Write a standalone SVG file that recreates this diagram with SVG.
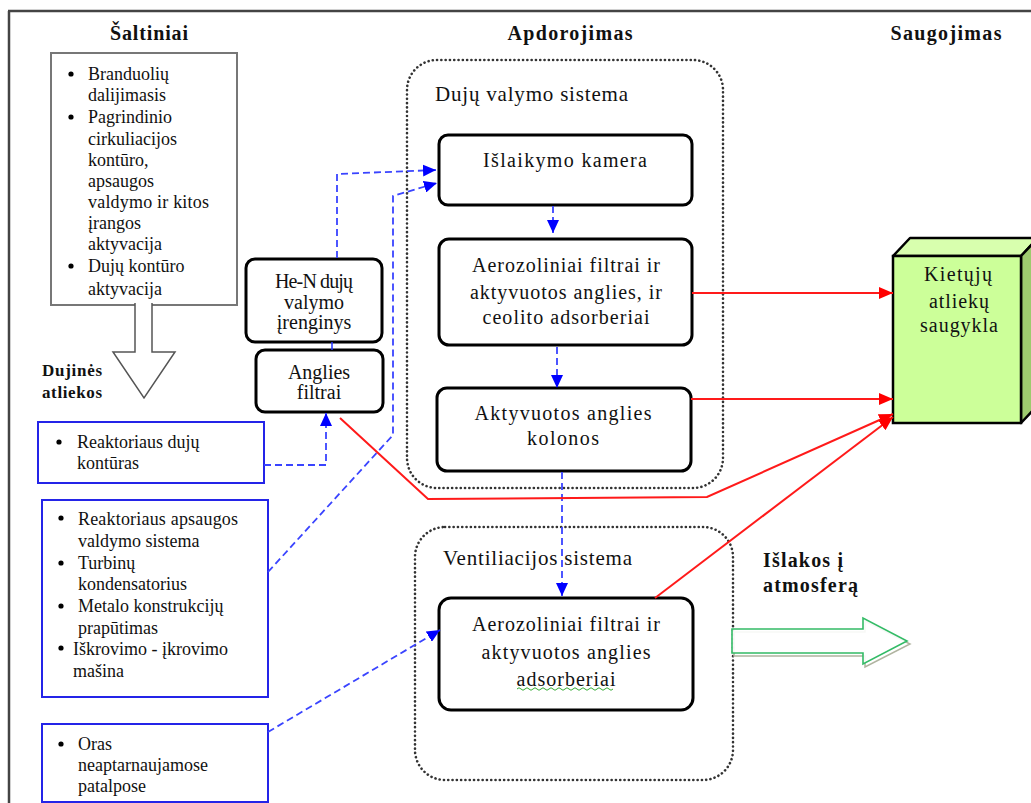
<svg xmlns="http://www.w3.org/2000/svg" width="1031" height="803" viewBox="0 0 1031 803">
<style>
text{font-family:"Liberation Serif","Times New Roman",serif;fill:#111;}
.h{font-size:20px;font-weight:bold;text-anchor:middle;}
.hb{font-size:20px;font-weight:bold;}
.s{font-size:18px;}
.p{font-size:20px;text-anchor:middle;}
.c{font-size:21px;}
.proc{fill:#fff;stroke:#000;stroke-width:3;}
.src{fill:#fff;stroke:#2424e8;stroke-width:2;}
.dot{fill:none;stroke:#333;stroke-width:2.6;stroke-dasharray:0.1 4.2;stroke-linecap:round;}
.bd{fill:none;stroke:#3a44ff;stroke-width:1.8;stroke-dasharray:7 4;}
.red{fill:none;stroke:#ff1a1a;stroke-width:2;}
.bul{fill:#000;}
</style>
<defs>
<marker id="ab" markerUnits="userSpaceOnUse" markerWidth="13" markerHeight="12" refX="13" refY="6" orient="auto"><path d="M0,0 L13,6 L0,12 z" fill="#0000ff"/></marker>
<marker id="ar" markerUnits="userSpaceOnUse" markerWidth="14" markerHeight="12" refX="14" refY="6" orient="auto"><path d="M0,0 L14,6 L0,12 z" fill="#ff0000"/></marker>
</defs>
<rect width="1031" height="803" fill="#fff"/>
<g id="frame">
<path d="M8,11 H1031 M9,11 V803" fill="none" stroke="#444" stroke-width="2.5"/>
</g>
<g id="headers">
<text class="h" x="149" y="40" textLength="78">Šaltiniai</text>
<text class="h" x="570" y="40" textLength="125">Apdorojimas</text>
<text class="h" x="946" y="40" textLength="111">Saugojimas</text>
</g>
<g id="containers">
<rect class="dot" x="407" y="60" width="316" height="428" rx="30"/>
<text class="c" x="435" y="101" textLength="193">Dujų valymo sistema</text>
<rect class="dot" x="415" y="527" width="318" height="253" rx="30"/>
<text class="c" x="443" y="565" textLength="189">Ventiliacijos sistema</text>
</g>
<g id="sources">
<rect x="51" y="53" width="186" height="252" fill="#fff" stroke="#777" stroke-width="2"/>
<path d="M135,303 V352 H113 L144,398 L175,352 H152 V303" fill="#fff" stroke="#555" stroke-width="1.5"/>
<circle class="bul" cx="71" cy="74" r="2.6"/>
<circle class="bul" cx="71" cy="117" r="2.6"/>
<circle class="bul" cx="71" cy="266" r="2.6"/>
<text class="s" x="88" y="80">Branduolių</text>
<text class="s" x="88" y="101">dalijimasis</text>
<text class="s" x="88" y="123">Pagrindinio</text>
<text class="s" x="88" y="145">cirkuliacijos</text>
<text class="s" x="88" y="166">kontūro,</text>
<text class="s" x="88" y="187">apsaugos</text>
<text class="s" x="88" y="208" textLength="121">valdymo ir kitos</text>
<text class="s" x="88" y="229">įrangos</text>
<text class="s" x="88" y="250">aktyvacija</text>
<text class="s" x="88" y="272">Dujų kontūro</text>
<text class="s" x="88" y="295">aktyvacija</text>
</g>
<g id="dujines">
<text x="42" y="376" font-size="17" font-weight="bold" textLength="60">Dujinės</text>
<text x="42" y="398" font-size="17" font-weight="bold" textLength="60">atliekos</text>
</g>
<g id="src1">
<rect class="src" x="38" y="422" width="226" height="61"/>
<circle class="bul" cx="59" cy="442" r="2.6"/>
<text class="s" x="77" y="448">Reaktoriaus dujų</text>
<text class="s" x="77" y="469">kontūras</text>
</g>
<g id="src2">
<rect class="src" x="42" y="500" width="226" height="197"/>
<circle class="bul" cx="61" cy="518" r="2.6"/>
<circle class="bul" cx="61" cy="563" r="2.6"/>
<circle class="bul" cx="61" cy="606" r="2.6"/>
<circle class="bul" cx="61" cy="648" r="2.6"/>
<text class="s" x="78" y="525" textLength="160">Reaktoriaus apsaugos</text>
<text class="s" x="78" y="547">valdymo sistema</text>
<text class="s" x="78" y="569">Turbinų</text>
<text class="s" x="78" y="590">kondensatorius</text>
<text class="s" x="78" y="612">Metalo konstrukcijų</text>
<text class="s" x="78" y="634">prapūtimas</text>
<text class="s" x="73" y="655">Iškrovimo - įkrovimo</text>
<text class="s" x="73" y="677">mašina</text>
</g>
<g id="src3">
<rect class="src" x="42" y="724" width="226" height="78"/>
<circle class="bul" cx="61" cy="744" r="2.6"/>
<text class="s" x="78" y="750">Oras</text>
<text class="s" x="78" y="771">neaptarnaujamose</text>
<text class="s" x="78" y="792">patalpose</text>
</g>
<g id="hen">
<rect class="proc" x="246" y="259" width="136" height="83" rx="9"/>
<text class="p" x="314" y="288" font-size="18" textLength="78">He-N dujų</text>
<text class="p" x="314" y="309" font-size="18">valymo</text>
<text class="p" x="314" y="329" font-size="18">įrenginys</text>
</g>
<g id="anglies">
<rect class="proc" x="256" y="350" width="127" height="62" rx="9"/>
<text class="p" x="319" y="379" font-size="18">Anglies</text>
<text class="p" x="319" y="399" font-size="18">filtrai</text>
</g>
<g id="islaikymo">
<rect class="proc" x="439" y="135" width="253" height="70" rx="9"/>
<text class="p" x="565" y="167" textLength="164">Išlaikymo kamera</text>
</g>
<g id="aerozol1">
<rect class="proc" x="439" y="239" width="253" height="106" rx="10"/>
<text class="p" x="566" y="272" textLength="188">Aerozoliniai filtrai ir</text>
<text class="p" x="566" y="299" textLength="192">aktyvuotos anglies, ir</text>
<text class="p" x="566" y="324" textLength="167">ceolito adsorberiai</text>
</g>
<g id="aktyvuotos">
<rect class="proc" x="437" y="388" width="254" height="83" rx="10"/>
<text class="p" x="563" y="420" textLength="177">Aktyvuotos anglies</text>
<text class="p" x="563" y="445" textLength="72">kolonos</text>
</g>
<g id="aerozol2">
<rect class="proc" x="439" y="598" width="254" height="112" rx="12"/>
<text class="p" x="566" y="631" textLength="188">Aerozoliniai filtrai ir</text>
<text class="p" x="566" y="659" textLength="169">aktyvuotos anglies</text>
<text class="p" x="566" y="686" textLength="99">adsorberiai</text>
<path d="M517,689 q2,-2.5 4,0 t4,0 t4,0 t4,0 t4,0 t4,0 t4,0 t4,0 t4,0 t4,0 t4,0 t4,0 t4,0 t4,0 t4,0 t4,0 t4,0 t4,0 t4,0 t4,0 t4,0 t4,0 t4,0 t4,0" fill="none" stroke="#3a3" stroke-width="1"/>
</g>
<g id="storage">
<polygon points="893,256 910,238 1038,238 1021,256" fill="#d8ffae" stroke="#000" stroke-width="2.5" stroke-linejoin="round"/>
<polygon points="1021,256 1038,238 1038,405 1021,423" fill="#9dcb6e" stroke="#000" stroke-width="2.5" stroke-linejoin="round"/>
<rect x="893" y="256" width="128" height="167" fill="#ccff99" stroke="#000" stroke-width="2.5"/>
<text class="p" x="958" y="281" textLength="68">Kietųjų</text>
<text class="p" x="959" y="308" textLength="60">atliekų</text>
<text class="p" x="959" y="332" textLength="78">saugykla</text>
</g>
<g id="islakos">
<text class="hb" x="763" y="567" textLength="80">Išlakos į</text>
<text class="hb" x="763" y="592" textLength="95">atmosferą</text>
<polygon points="734,632 865,632 865,621 910,644 865,667 865,656 734,656" fill="none" stroke="#b0b4a0" stroke-width="1.5"/>
<polygon points="732,629 863,629 863,618 907,641 863,664 863,653 732,653" fill="#fff" fill-opacity="0.9" stroke="#33bb66" stroke-width="1.6"/>
</g>
<g id="connectors">
<path class="bd" d="M337,258 V174 L436,170" marker-end="url(#ab)"/>
<path class="bd" d="M268,572 L393,435 V196 L437,183" marker-end="url(#ab)"/>
<path class="bd" d="M264,465 H326 V413" marker-end="url(#ab)"/>
<path class="bd" d="M268,732 L440,630" marker-end="url(#ab)"/>
<path d="M332,342 V350" stroke="#2233ff" stroke-width="1.5"/>
<path class="bd" d="M553,206 V233" marker-end="url(#ab)"/>
<path class="bd" d="M557,347 V388" marker-end="url(#ab)"/>
<path class="bd" d="M562,472 V596" marker-end="url(#ab)"/>
<path class="red" d="M692,293 H893" marker-end="url(#ar)"/>
<path class="red" d="M691,399 H893" marker-end="url(#ar)"/>
<path class="red" d="M340,418 L428,499 L707,497 L893,414" marker-end="url(#ar)"/>
<path class="red" d="M655,598 L893,417" marker-end="url(#ar)"/>
</g>
</svg>
